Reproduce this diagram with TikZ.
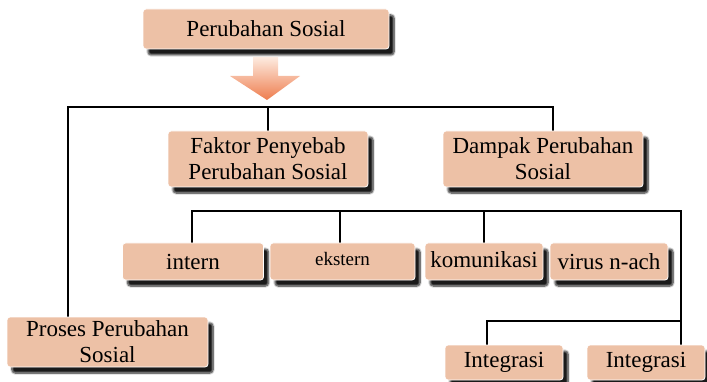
\documentclass[tikz,border=0pt]{standalone}
\usepackage{fontspec}
\setmainfont{Liberation Serif}
\usetikzlibrary{shadows.blur}
\definecolor{peach}{HTML}{EDC1A6}
\definecolor{arrowtop}{HTML}{FDEBE0}
\definecolor{arrowtip}{HTML}{EE7D4E}
\tikzstyle{link} = [line width=1.6pt, black]
\pgfdeclarelayer{bg}
\pgfsetlayers{bg,main}
\tikzset{box/.style={rectangle, rounded corners=3pt, draw=white, line width=0.8pt, fill=peach, align=center,
    font=\fontsize{23}{26}\selectfont, inner sep=0pt,
    blur shadow={shadow xshift=5pt, shadow yshift=-6pt, shadow blur steps=8, shadow opacity=90}}}

\begin{document}
\begin{tikzpicture}[x=1pt, y=-1pt]
    \useasboundingbox (0,0) rectangle (707,382);
    \node [box, minimum width=246pt, minimum height=40pt] (sosial) at (266,29) {Perubahan Sosial};
    \node [box, minimum width=200pt, minimum height=56pt] (faktor) at (268,159) {Faktor Penyebab\\Perubahan Sosial};
    \node [box, minimum width=200pt, minimum height=56pt] (dampak) at (543,159) {Dampak Perubahan\\Sosial};

    \node [box, minimum width=141pt, minimum height=37pt] (intern) at (193,261.5) {intern};
    \node [box, minimum width=145pt, minimum height=37pt, font=\fontsize{19}{22}\selectfont, text depth=5pt] (ekstern) at (342.5,261.5) {ekstern};
    \node [box, minimum width=118pt, minimum height=37pt, text depth=4pt] (komunikasi) at (484,261.5) {komunikasi};
    \node [box, minimum width=118pt, minimum height=37pt] (virus) at (609,261.5) {virus n-ach};

    \node [box, minimum width=201pt, minimum height=50pt] (proses) at (107.5,342) {Proses Perubahan\\Sosial};
    \node [box, minimum width=118pt, minimum height=35pt] (integrasi1) at (504,362.5) {Integrasi};
    \node [box, minimum width=118pt, minimum height=35pt] (integrasi2) at (646,362.5) {Integrasi};

    % arrow below the title
    \shade [top color=arrowtop, bottom color=arrowtip] (253,57) -- (278,57) -- (278,76) -- (300,76)
        -- (267,100) -- (230,76) -- (253,76) -- cycle;

    \begin{pgfonlayer}{bg} % connectors
    \coordinate (bus1) at (267,107);
    \coordinate (bus2) at (681,211);
    \coordinate (bus3) at (681,321);
    \draw [link] ([xshift=-39.5pt]proses.north) |- (bus1) -| ([xshift=10pt]dampak.north);
    \draw [link] (faktor.north) -- (faktor.north |- bus1);
    \draw [link] ([xshift=-1pt]intern.north) |- (bus2) -- ([xshift=35pt]integrasi2.north);
    \draw [link] ([xshift=-2.5pt]ekstern.north) -- ([xshift=-2.5pt]ekstern.north |- bus2);
    \draw [link] (komunikasi.north) -- (komunikasi.north |- bus2);
    \draw [link] ([xshift=-17pt]integrasi1.north) |- (bus3);
    \end{pgfonlayer}
\end{tikzpicture}
\end{document}
